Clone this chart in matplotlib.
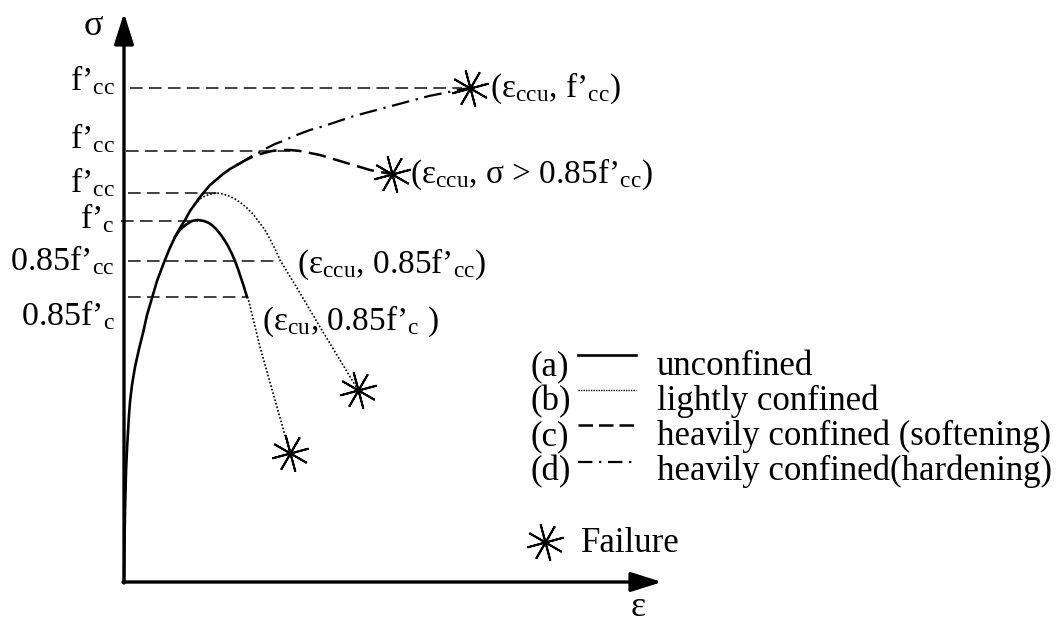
import matplotlib
matplotlib.use('Agg')
import matplotlib.pyplot as plt

# schematic stress-strain curves of confined concrete
# units: 1 unit = 1 px of the original picture, origin at the axis corner

plt.rcParams['font.family'] = ['Liberation Serif', 'DejaVu Serif']
plt.rcParams['mathtext.fontset'] = 'custom'
plt.rcParams['mathtext.rm'] = 'Liberation Serif'
plt.rcParams['mathtext.it'] = 'Liberation Serif:italic'

# common ascending branch
env_eps = [0, 0.5, 1, 2, 3, 4, 5, 6, 8, 11, 15, 19, 23, 28, 33, 39, 45, 51,
           56, 61, 66, 71, 76, 81, 86, 92, 99, 106, 113]
env_sig = [0, 40, 70, 110, 133, 150, 167, 180, 197, 215, 233, 249, 267, 284, 301, 317, 332, 345,
           354, 362, 371, 378, 385, 391, 397, 402, 408, 413, 417]

# (a) unconfined
a_eps = [51, 55, 59, 63, 68, 74, 80, 85, 89, 93, 97, 101, 104, 108, 111, 114, 117, 120, 123]
a_sig = [345, 351, 355, 358, 361, 362, 361, 359, 356, 352, 347, 341, 336, 328, 321, 313, 304, 295, 285]
a_tail_eps = [123, 124, 136, 149, 166]
a_tail_sig = [285, 284, 235, 189, 129]

# (b) lightly confined
b_eps = [71, 76, 81, 87, 93, 99, 105, 111, 117, 123, 129, 135, 141, 147, 152, 156,
         176, 196, 216, 234]
b_sig = [378, 383, 386, 388, 389, 388, 386, 383, 379, 374, 368, 360, 352, 341, 331, 322,
         289, 255, 222, 192]

# (c) heavily confined, softening
c_eps = [113, 120, 126, 133, 140, 148, 156, 166, 176, 186, 196, 206, 216, 226, 236, 246, 256, 268]
c_sig = [417, 421, 424, 427, 429, 431, 432, 432, 431, 429, 427, 424, 421, 418, 415, 412, 410, 408]

# (d) heavily confined, hardening
d_eps = [113, 120, 128, 136, 143, 151, 159, 170, 186, 200, 215, 230, 245, 260, 275,
         290, 305, 320, 334, 346]
d_sig = [417, 421, 426, 430, 434, 438, 441, 446, 452, 456, 461, 466, 470, 474, 478,
         482, 486, 489, 492, 494]

# failure points
fail_eps = [166, 234, 268, 346]
fail_sig = [129, 192, 408, 494]

# reference stress levels
lev_sig = [494, 431, 389, 361, 321, 285]
lev_start = [6, 2, 4, -3, 4, 4]
lev_end = [338, 176, 94, 74, 156, 123]
lev_labels = ["f’$_\\mathrm{cc}$", "f’$_\\mathrm{cc}$", "f’$_\\mathrm{cc}$", "f’$_\\mathrm{c}$",
              "0.85f’$_\\mathrm{cc}$", "0.85f’$_\\mathrm{c}$"]
lev_base = [492, 434, 390, 354, 312, 257]

notes = ["(ε$_\\mathrm{ccu}$, f’$_\\mathrm{cc}$)",
         "(ε$_\\mathrm{ccu}$, σ > 0.85f’$_\\mathrm{cc}$)",
         "(ε$_\\mathrm{ccu}$, 0.85f’$_\\mathrm{cc}$)",
         "(ε$_\\mathrm{cu}$, 0.85f’$_\\mathrm{c}$ )"]
notes_x = [366, 286, 173, 138]
notes_y = [485, 399, 309, 252]

legend_tags = ['(a)', '(b)', '(c)', '(d)']
legend_names = ['unconfined', 'lightly confined', 'heavily confined (softening)',
                'heavily confined(hardening)']

fig = plt.figure(figsize=(10.59, 6.26), dpi=100)
ax = fig.add_axes([0, 0, 1, 1])
ax.set_xlim(-124, 935)
ax.set_ylim(-44, 582)
ax.axis('off')

ref_kw = dict(color='#333333', lw=1.3, dashes=(7, 3.5))
dot = (0, (1, 1.2))

# reference dashed lines and labels
for s, x0, x1, lab, yb in zip(lev_sig, lev_start, lev_end, lev_labels, lev_base):
    ax.plot([x0, x1], [s, s], **ref_kw)
    ax.text(-9, yb, lab, ha='right', va='baseline', fontsize=24.5)

# curves
ax.plot(env_eps, env_sig, color='k', lw=1.9, solid_joinstyle='round')
ax.plot(a_eps, a_sig, color='k', lw=1.9, solid_joinstyle='round')
ax.plot(a_tail_eps, a_tail_sig, color='k', lw=1.2, ls=dot)
ax.plot(b_eps, b_sig, color='k', lw=1.2, ls=dot)
ax.plot(c_eps, c_sig, color='k', lw=1.8, dashes=(7, 3))
ax.plot(d_eps, d_sig, color='k', lw=1.6, dashes=(8, 3, 1, 3))
ax.plot(fail_eps, fail_sig, ls='none', marker=(8, 2, 15), ms=27, mew=1.4, color='k')

for t, x, y in zip(notes, notes_x, notes_y):
    ax.text(x, y, t, ha='left', va='baseline', fontsize=24)

# axes with arrows
arr = dict(arrowstyle='-|>,head_length=0.95,head_width=0.3', lw=2.4, color='k',
           mutation_scale=20, shrinkA=0, shrinkB=0)
ax.annotate('', xy=(0, 569), xytext=(0, -1), arrowprops=arr)
ax.annotate('', xy=(538, 0), xytext=(-1, 0), arrowprops=arr)
ax.text(-31, 547, 'σ', ha='center', va='baseline', fontsize=26)
ax.text(514, -34, 'ε', ha='center', va='baseline', fontsize=26)

# legend
leg_y = [227, 192, 157, 120]
leg_base = [207, 172, 137, 102]
leg_styles = [dict(lw=1.9), dict(lw=1.0, ls=(0, (1, 0.8))), dict(lw=1.8, dashes=(5.8, 2.4)),
              dict(lw=1.6, dashes=(6.5, 3, 1, 3))]
for tag, name, ly, lb, st in zip(legend_tags, legend_names, leg_y, leg_base, leg_styles):
    ax.text(406, lb, tag, ha='left', va='baseline', fontsize=25)
    ax.plot([454, 512], [ly, ly], color='k', **st)
    ax.text(533, lb, name, ha='left', va='baseline', fontsize=25)
ax.plot([421], [40], ls='none', marker=(8, 2, 15), ms=27, mew=1.4, color='k')
ax.text(457, 30, 'Failure', ha='left', va='baseline', fontsize=25)

fig.savefig('out.png', dpi=100)
